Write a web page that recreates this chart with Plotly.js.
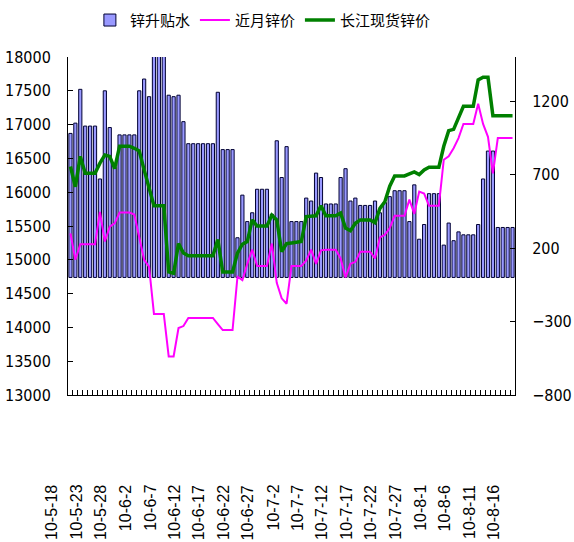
<!DOCTYPE html>
<html>
<head>
<meta charset="utf-8">
<script src="https://cdn.plot.ly/plotly-3.0.1.min.js"></script>
<style>
  html, body { margin: 0; padding: 0; background: #fff; }
  #chart { width: 574px; height: 542px; }
</style>
</head>
<body>
<div id="chart"></div>
<script>
// 日期 (2010-05-18 ~ 2010-08-16)
const dates = [
  '10-5-18','10-5-19','10-5-20','10-5-21','10-5-22','10-5-23','10-5-24','10-5-25','10-5-26','10-5-27',
  '10-5-28','10-5-29','10-5-30','10-5-31',
  '10-6-1','10-6-2','10-6-3','10-6-4','10-6-5','10-6-6','10-6-7','10-6-8','10-6-9','10-6-10',
  '10-6-11','10-6-12','10-6-13','10-6-14','10-6-15','10-6-16','10-6-17','10-6-18','10-6-19','10-6-20',
  '10-6-21','10-6-22','10-6-23','10-6-24','10-6-25','10-6-26','10-6-27','10-6-28','10-6-29','10-6-30',
  '10-7-1','10-7-2','10-7-3','10-7-4','10-7-5','10-7-6','10-7-7','10-7-8','10-7-9','10-7-10',
  '10-7-11','10-7-12','10-7-13','10-7-14','10-7-15','10-7-16','10-7-17','10-7-18','10-7-19','10-7-20',
  '10-7-21','10-7-22','10-7-23','10-7-24','10-7-25','10-7-26','10-7-27','10-7-28','10-7-29','10-7-30',
  '10-7-31','10-8-1','10-8-2','10-8-3','10-8-4','10-8-5','10-8-6','10-8-7','10-8-8','10-8-9',
  '10-8-10','10-8-11','10-8-12','10-8-13','10-8-14','10-8-15','10-8-16'
];

// 锌升贴水 (右轴)
const premium = [
  980, 1050, 1280, 1030, 1030, 1030, 670, 1270, 1020, 750,
  970, 970, 970, 970,
  1270, 1350, 1230, 1600, 1600, 1600, 1240, 1230, 1240, 1060,
  910, 910, 910, 910, 910, 910, 1260, 870, 870, 870,
  270, 560, 380, 440, 600, 600, 600, 430, 930, 680,
  890, 380, 380, 380, 540, 520, 710, 680, 500, 500,
  500, 680, 740, 520, 540, 490, 490, 490, 520, 440,
  510, 550, 590, 590, 590, 380, 630, 260, 360, 570,
  570, 570, 220, 370, 250, 310, 290, 290, 290, 360,
  670, 860, 860, 340, 340, 340, 340
];

// 近月锌价 (左轴)
const nearMonth = [
  15390, 15000, 15230, 15230, 15230, 15230, 15710, 15270, 15490, 15540,
  15700, 15700, 15700, 15670,
  15340, 15000, 14900, 14200, 14200, 14200, 13570, 13570, 13990, 14020,
  14140, 14140, 14140, 14140, 14140, 14140, 14050, 13960, 13960, 13960,
  14750, 14700, 14940, 15150, 14910, 14910, 14910, 15240, 14660, 14430,
  14350, 14910, 14910, 14910, 14990, 15150, 14940, 15140, 15150, 15150,
  15150, 15020, 14740, 14940, 14970, 15120, 15120, 15120, 15020, 15330,
  15370, 15470, 15650, 15650, 15650, 15890, 15680, 16010, 15980, 15800,
  15800, 15800, 16480, 16530, 16650, 16800, 17010, 17010, 17010, 17310,
  17010, 16820, 16280, 16800, 16800, 16800, 16800
];

// 长江现货锌价 (左轴)
const spot = [
  16380, 16080, 16530, 16280, 16280, 16280, 16430, 16550, 16530, 16350,
  16680, 16680, 16680, 16650,
  16610, 16330, 16060, 15800, 15800, 15800, 14820, 14800, 15240, 15100,
  15060, 15060, 15060, 15060, 15060, 15060, 15300, 14820, 14820, 14820,
  15100, 15230, 15270, 15590, 15500, 15500, 15500, 15660, 15590, 15120,
  15240, 15250, 15260, 15270, 15640, 15650, 15650, 15800, 15650, 15650,
  15650, 15690, 15470, 15430, 15540, 15590, 15590, 15590, 15550, 15760,
  15860, 16090, 16240, 16240, 16240, 16270, 16300, 16260, 16330, 16370,
  16370, 16370, 16680, 16910, 16930, 17110, 17270, 17270, 17270, 17660,
  17700, 17700, 17130, 17130, 17130, 17130, 17130
];

const labelStep = 5;

const AXIS_FONT = { family: 'DejaVu Sans Condensed, Liberation Sans Narrow, sans-serif', size: 16, color: '#000' };
const DATE_FONT = { family: 'Liberation Sans, Arial, sans-serif', size: 16, color: '#000' };

const traces = [
  {
    type: 'bar',
    x: dates,
    y: premium,
    name: '锌升贴水',
    yaxis: 'y',
    marker: { color: '#9999ff', line: { color: '#000033', width: 1 } },
    hoverinfo: 'x+y'
  },
  {
    type: 'scatter',
    mode: 'lines',
    x: dates,
    y: nearMonth,
    name: '近月锌价',
    yaxis: 'y2',
    line: { color: '#ff00ff', width: 2 }
  },
  {
    type: 'scatter',
    mode: 'lines',
    x: dates,
    y: spot,
    name: '长江现货锌价',
    yaxis: 'y2',
    line: { color: '#008000', width: 3.5 }
  }
];

// 日期标签 (每5天)
const annotations = [];
for (let i = 0; i < dates.length; i += labelStep) {
  annotations.push({
    x: dates[i], xref: 'x',
    y: 0, yref: 'paper',
    yanchor: 'top', xanchor: 'center',
    yshift: -88, xshift: -19,
    textangle: -90,
    text: dates[i],
    showarrow: false,
    font: DATE_FONT
  });
}

const layout = {
  width: 574,
  height: 542,
  margin: { t: 57, r: 59, b: 147, l: 68 },
  paper_bgcolor: '#fff',
  plot_bgcolor: '#fff',
  showlegend: true,
  bargap: 0.35,
  xaxis: {
    type: 'category',
    range: [-0.5, dates.length - 0.5],
    tickmode: 'linear', tick0: 0, dtick: 1,
    tickson: 'boundaries',
    ticks: 'inside', ticklen: 5, tickcolor: '#000',
    showticklabels: false,
    showline: true, linecolor: '#000', linewidth: 1,
    showgrid: false, zeroline: false
  },
  yaxis: {
    side: 'right',
    range: [-800, 1500],
    tickmode: 'array',
    tickvals: [-800, -300, 200, 700, 1200],
    ticks: 'inside', ticklen: 5, tickcolor: '#000',
    ticklabelstandoff: 13,
    showline: true, linecolor: '#000', linewidth: 1,
    showgrid: false, zeroline: false,
    tickfont: AXIS_FONT
  },
  yaxis2: {
    overlaying: 'y',
    side: 'left',
    range: [13000, 18000],
    dtick: 500,
    tickformat: 'd',
    ticks: 'inside', ticklen: 5, tickcolor: '#000',
    ticklabelstandoff: 13,
    showline: true, linecolor: '#000', linewidth: 1,
    showgrid: false, zeroline: false,
    tickfont: AXIS_FONT
  },
  legend: {
    orientation: 'h',
    xref: 'container', yref: 'container',
    x: 0.458, xanchor: 'center',
    y: 0.993, yanchor: 'top',
    font: { family: 'Noto Sans CJK SC, sans-serif', size: 15, color: '#000' },
    itemwidth: 30,
    tracegroupgap: 0
  },
  annotations: annotations
};

Plotly.newPlot('chart', traces, layout, { displayModeBar: false, staticPlot: true });
</script>
</body>
</html>
